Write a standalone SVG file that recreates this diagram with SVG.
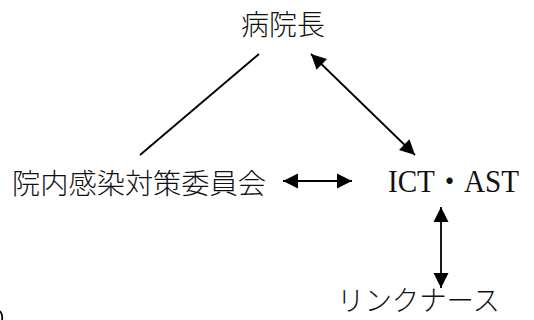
<svg xmlns="http://www.w3.org/2000/svg" width="534" height="320" viewBox="0 0 534 320">
<style>
.jp{font-family:"Noto Sans CJK JP","Noto Sans CJK SC",sans-serif;font-size:28px;font-weight:300;fill:#111;}
.en{font-family:"Liberation Serif","Noto Sans CJK JP",serif;font-size:31px;fill:#111;}
.ln{stroke:#000;stroke-width:1.8;fill:none;}
</style>
<defs>
<marker id="ah" markerUnits="userSpaceOnUse" markerWidth="16" markerHeight="16" viewBox="0 0 16 16" refX="15" refY="8" orient="auto-start-reverse">
<path d="M0,0.5 L15,8 L0,15.5 z" fill="#000"/>
</marker>
</defs>
<rect width="534" height="320" fill="#fff"/>
<g id="connectors">
<line class="ln" x1="259" y1="54" x2="140" y2="155"/>
<line class="ln" x1="311" y1="54" x2="415" y2="155" marker-start="url(#ah)" marker-end="url(#ah)"/>
<line class="ln" x1="283" y1="181" x2="352" y2="181" marker-start="url(#ah)" marker-end="url(#ah)"/>
<line class="ln" x1="441" y1="207" x2="441" y2="288" marker-start="url(#ah)" marker-end="url(#ah)"/>
<path class="ln" d="M0,311 Q3,315 2,320"/>
</g>
<g id="node-director"><text class="jp" x="241" y="35" textLength="84" lengthAdjust="spacingAndGlyphs">病院長</text></g>
<g id="node-committee"><text class="jp" x="12" y="194" textLength="254" lengthAdjust="spacingAndGlyphs">院内感染対策委員会</text></g>
<g id="node-ict"><text class="en" x="388" y="192" textLength="131" lengthAdjust="spacingAndGlyphs">ICT・AST</text></g>
<g id="node-link"><text class="jp" x="337" y="311" textLength="163" lengthAdjust="spacingAndGlyphs">リンクナース</text></g>
</svg>
